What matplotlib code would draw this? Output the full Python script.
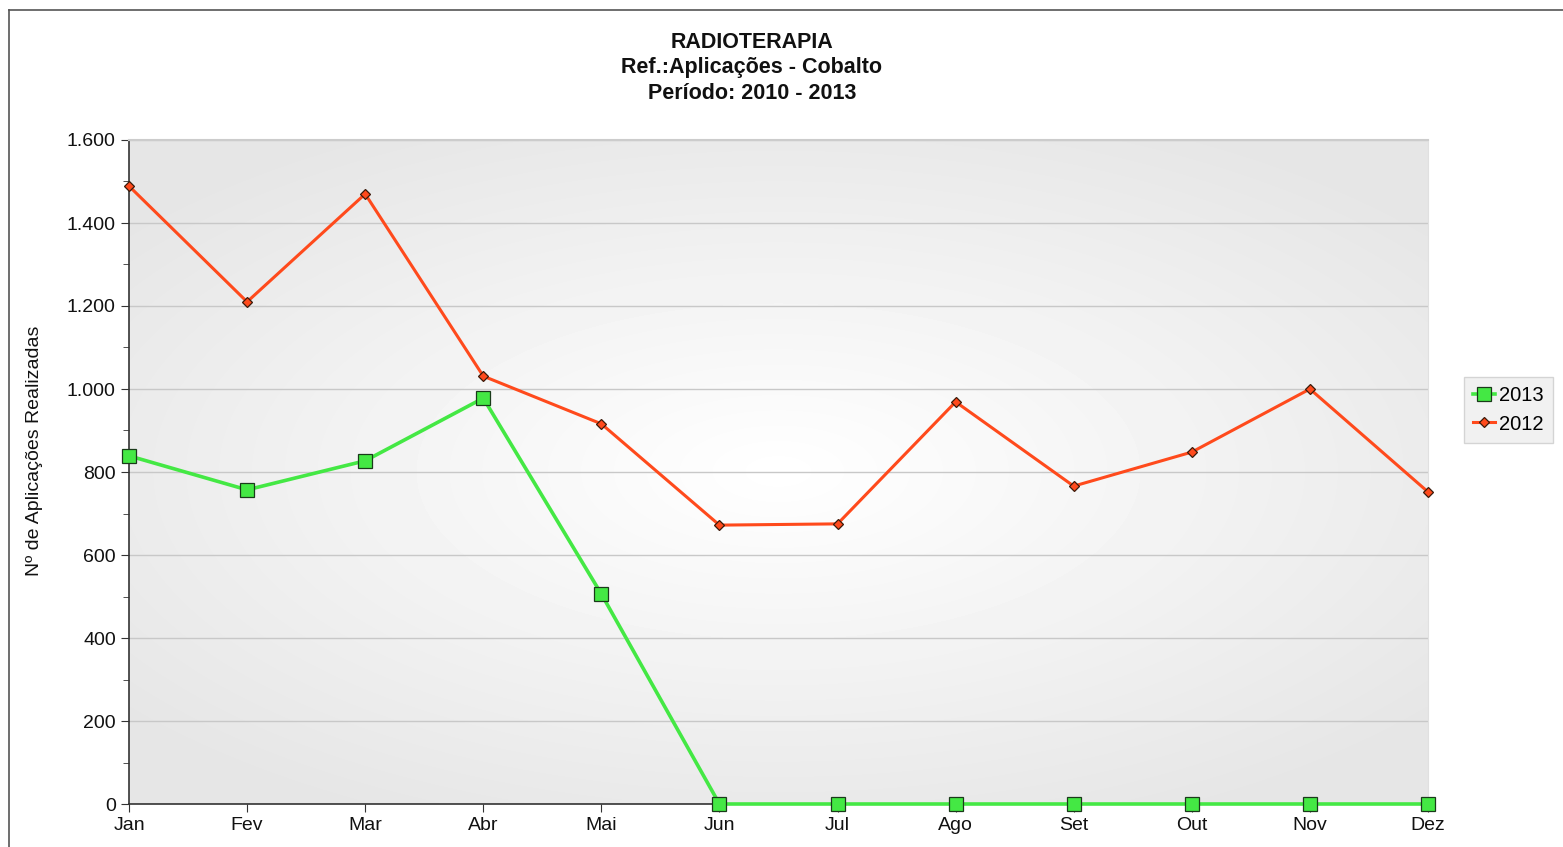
import matplotlib
matplotlib.use('Agg')
import matplotlib.pyplot as plt
import numpy as np
from matplotlib.ticker import MultipleLocator, FuncFormatter

plt.rcParams['font.family'] = ['Liberation Sans', 'DejaVu Sans']

months = ["Jan", "Fev", "Mar", "Abr", "Mai", "Jun", "Jul", "Ago", "Set", "Out", "Nov", "Dez"]
vals_2013 = [839, 757, 827, 978, 506, 0, 0, 0, 0, 0, 0, 0]
vals_2012 = [1489, 1210, 1470, 1031, 916, 672, 675, 969, 766, 848, 1000, 752]

GREEN = "#44E844"
ORANGE = "#FF4A1C"

fig = plt.figure(figsize=(15.63, 8.47), dpi=100)
fig.patch.set_facecolor('white')

# outer frame (only left and top edges visible in the picture)
fig.add_artist(plt.Line2D([9 / 1563, 9 / 1563], [0, 1 - 10 / 847], color='#555555', lw=1.2))
fig.add_artist(plt.Line2D([9 / 1563, 1], [1 - 10 / 847, 1 - 10 / 847], color='#555555', lw=1.2))

ax = fig.add_axes([129 / 1563, 43 / 847, 1299 / 1563, 664 / 847])
x = np.arange(len(months))

# radial gradient background
gy, gx = np.mgrid[-1:1:200j, -1:1:400j]
r = np.sqrt(gx ** 2 + (gy * 1.1) ** 2)
grad = 1.0 - 0.10 * np.clip(r, 0, 1.3) / 1.3
ax.imshow(grad, cmap='gray', vmin=0, vmax=1, extent=[0, 11, 0, 1600],
          aspect='auto', zorder=0, interpolation='bilinear')

ax.set_xlim(0, 11)
ax.set_ylim(0, 1600)

ax.yaxis.set_major_locator(MultipleLocator(200))
ax.yaxis.set_minor_locator(MultipleLocator(100))
ax.yaxis.set_major_formatter(FuncFormatter(lambda v, p: f"{int(v):,}".replace(",", ".")))
ax.set_xticks(x)
ax.set_xticklabels(months)
ax.grid(axis='y', which='major', color='#C8C8C8', lw=1, zorder=1)

ax.plot(x, vals_2013, color=GREEN, lw=2.6, marker='s', markersize=10,
        markerfacecolor=GREEN, markeredgecolor='#1a3a1a', markeredgewidth=0.9,
        label='2013', zorder=3, clip_on=False)
ax.plot(x, vals_2012, color=ORANGE, lw=2.2, marker='D', markersize=5.5,
        markerfacecolor=ORANGE, markeredgecolor='#3a1a0a', markeredgewidth=0.9,
        label='2012', zorder=3, clip_on=False)

for s in ['left', 'bottom']:
    ax.spines[s].set_color('#333333')
    ax.spines[s].set_linewidth(1.2)
ax.spines['top'].set_color('#CCCCCC')
ax.spines['top'].set_linewidth(1.5)
ax.spines['right'].set_color('#E0E0E0')

ax.tick_params(axis='both', which='major', direction='out', length=6, color='#333333',
               labelsize=14, labelcolor='#111111')
ax.tick_params(axis='y', which='minor', direction='out', length=4, color='#333333')
ax.tick_params(axis='x', pad=3)

ax.set_ylabel("Nº de Aplicações Realizadas", fontsize=14, color='#111111')
# right edge of the rotated label at about x=42px, centre at y=451px
ax.yaxis.set_label_coords((43 - 129) / 1299, (804 - 451) / 664)

fig.text(0.481, 1 - 68 / 847, "RADIOTERAPIA\nRef.:Aplicações - Cobalto\nPeríodo: 2010 - 2013",
         ha='center', va='center', fontsize=15.5, fontweight='bold', linespacing=1.3,
         color='#111111')

leg = ax.legend(loc='center left', bbox_to_anchor=(1464 / 1563, 1 - 410 / 847),
                bbox_transform=fig.transFigure, fontsize=14.5, frameon=True,
                fancybox=False, handlelength=1.1, handletextpad=0.2,
                borderpad=0.45, labelspacing=0.45, borderaxespad=0)
leg.get_frame().set_facecolor('#EEEEEE')
leg.get_frame().set_edgecolor('#CCCCCC')

fig.savefig('out.png', dpi=100, facecolor='white')
